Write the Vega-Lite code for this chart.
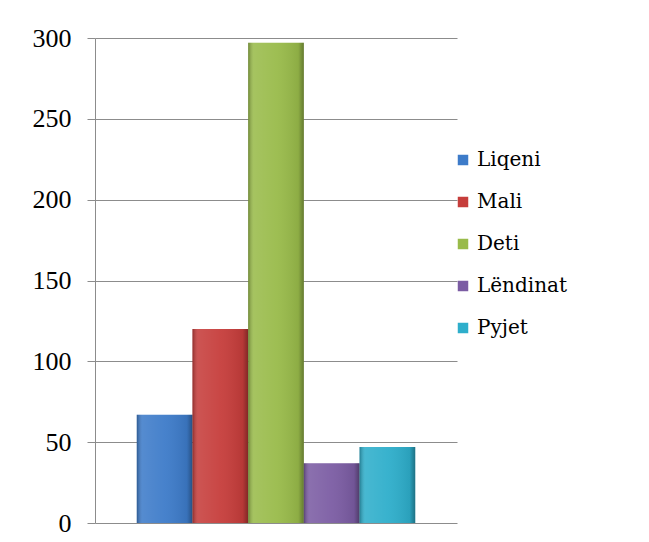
{
  "$schema": "https://vega.github.io/schema/vega-lite/v6.json",
  "width": 362,
  "height": 485,
  "autosize": {"type": "none"},
  "padding": {"left": 95, "top": 38, "right": 192, "bottom": 19},
  "background": "white",
  "config": {
    "font": "Liberation Serif",
    "view": {"stroke": null},
    "legend": {"labelFont": "DejaVu Serif", "labelFontSize": 20, "labelColor": "#000000"}
  },
  "data": {
    "values": [
      {"kategoria": "Liqeni", "vlera": 67},
      {"kategoria": "Mali", "vlera": 120},
      {"kategoria": "Deti", "vlera": 297},
      {"kategoria": "Lëndinat", "vlera": 37},
      {"kategoria": "Pyjet", "vlera": 47}
    ]
  },
  "encoding": {
    "x": {
      "field": "kategoria",
      "type": "nominal",
      "sort": ["Liqeni", "Mali", "Deti", "Lëndinat", "Pyjet"],
      "scale": {"paddingInner": 0, "paddingOuter": 0.75},
      "axis": null
    },
    "y": {
      "field": "vlera",
      "type": "quantitative",
      "scale": {"domain": [0, 300], "nice": false},
      "axis": {
        "values": [0, 50, 100, 150, 200, 250, 300],
        "title": null,
        "grid": true,
        "gridColor": "#8c8c8c",
        "gridWidth": 1,
        "domainColor": "#8c8c8c",
        "tickColor": "#8c8c8c",
        "tickSize": 8,
        "labelPadding": 16,
        "labelFontSize": 26,
        "labelColor": "#000000",
        "labelFont": "Liberation Serif"
      }
    },
    "color": {
      "field": "kategoria",
      "type": "nominal",
      "sort": ["Liqeni", "Mali", "Deti", "Lëndinat", "Pyjet"],
      "scale": {
        "domain": ["Liqeni", "Mali", "Deti", "Lëndinat", "Pyjet"],
        "range": ["#3d7bc9", "#c63d3b", "#99bb4a", "#7b5ca3", "#2eaecb"]
      },
      "legend": {
        "title": null,
        "orient": "none",
        "legendX": 358,
        "legendY": 112,
        "symbolType": "square",
        "symbolSize": 110,
        "symbolStrokeWidth": 0,
        "labelFontSize": 20,
        "labelFont": "DejaVu Serif",
        "labelColor": "#000000",
        "labelOffset": 4,
        "rowPadding": 22,
        "padding": 0,
        "labelLimit": 300
      }
    }
  },
  "layer": [
    {
      "mark": {"type": "bar"}
    },
    {
      "mark": {
        "type": "bar",
        "fill": {
          "gradient": "linear",
          "x1": 0, "y1": 0, "x2": 1, "y2": 0,
          "stops": [
            {"offset": 0, "color": "rgba(0,0,0,0.28)"},
            {"offset": 0.1, "color": "rgba(255,255,255,0.12)"},
            {"offset": 0.5, "color": "rgba(255,255,255,0.05)"},
            {"offset": 0.9, "color": "rgba(0,0,0,0.08)"},
            {"offset": 1, "color": "rgba(0,0,0,0.35)"}
          ]
        }
      },
      "encoding": {"color": {"value": null}}
    }
  ]
}
